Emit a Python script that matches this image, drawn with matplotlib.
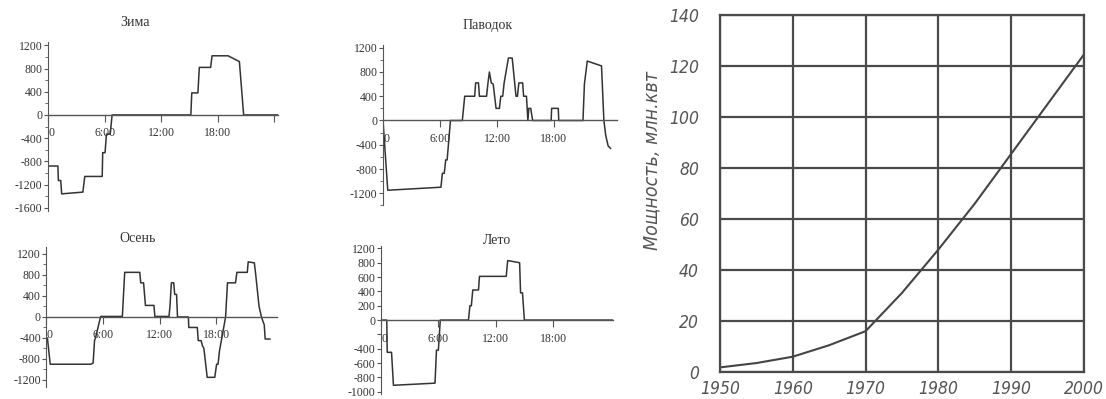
import matplotlib
matplotlib.use("Agg")
import matplotlib.pyplot as plt
from matplotlib import font_manager
from matplotlib.ticker import MultipleLocator

# --- daily load curves (hour, power) ---
zima_h = [0, 1.05, 1.1, 1.35, 1.45, 3.7, 3.9, 5.75, 5.8, 6.05, 6.2, 6.6, 6.8,
          15.15, 15.25, 15.9, 16.05, 17.25, 17.4, 19.1, 20.3, 20.75, 24.4]
zima_p = [-880, -880, -1130, -1130, -1360, -1330, -1060, -1060, -650, -650, -330, -330, 0,
          0, 380, 380, 820, 820, 1020, 1020, 920, 0, 0]

pavodok_h = [0, 0.5, 6.1, 6.25, 6.45, 6.6, 6.75, 7.1, 8.35, 8.6, 9.65, 9.75, 10.05, 10.15,
             10.9, 11.05, 11.2, 11.4, 11.6, 11.9, 12.25, 12.4, 12.6, 12.75, 13.2, 13.6,
             14.0, 14.15, 14.3, 14.7, 14.8, 15.1, 15.25, 15.35, 15.55, 15.75, 17.7, 17.75,
             18.45, 18.5, 21.05, 21.2, 21.5, 23.0, 23.25, 23.45, 23.7, 23.95]
pavodok_p = [0, -1150, -1100, -870, -870, -650, -650, 0, 0, 400, 400, 620, 620, 400,
             400, 620, 800, 620, 600, 200, 200, 400, 400, 620, 1030, 1030,
             400, 400, 620, 620, 400, 400, 0, 200, 200, 0, 0, 200,
             200, 0, 0, 600, 980, 900, 0, -250, -420, -460]

osen_h = [0, 0.1, 0.4, 4.7, 4.95, 5.1, 5.2, 5.75, 8.05, 8.3, 9.9, 10.0, 10.3, 10.5, 11.4,
          11.5, 13.0, 13.1, 13.25, 13.5, 13.6, 13.8, 13.9, 15.05, 15.1, 16.0, 16.1, 16.4,
          16.55, 16.7, 17.05, 17.85, 18.05, 18.2, 18.35, 19.0, 19.2, 20.05, 20.2, 21.3,
          21.4, 22.05, 22.2, 22.55, 22.8, 23.1, 23.2, 23.7]
osen_p = [-400, -400, -900, -900, -880, -450, -400, 10, 10, 850, 850, 650, 650, 220, 220,
          10, 10, 200, 650, 650, 430, 430, 0, 0, -200, -200, -450, -450,
          -550, -600, -1150, -1150, -900, -900, -650, 0, 650, 650, 850, 850,
          1050, 1030, 800, 200, 0, -150, -420, -420]

leto_h = [0, 0.6, 0.65, 1.1, 1.3, 5.65, 5.8, 6.0, 6.2, 9.15, 9.3, 9.45, 9.6, 10.2, 10.3,
          13.1, 13.25, 13.7, 14.5, 14.6, 14.8, 15.0, 24.3]
leto_p = [0, 0, -450, -450, -910, -880, -420, -420, 0, 0, 200, 200, 420, 420, 610,
          610, 830, 820, 800, 380, 380, 0, 0]

# --- capacity growth ---
years = [1950, 1955, 1960, 1965, 1970, 1975, 1980, 1985, 1990, 1995, 2000]
power = [1.8, 3.5, 6, 10.5, 16, 31, 48, 66, 85.5, 105, 124.5]

hour_ticks = [0, 6, 12, 18]
hour_labels = ["0", "6:00", "12:00", "18:00"]

ink = "#333333"
serif = ["Liberation Serif", "DejaVu Serif"]

# narrow italic face for the right chart if there is one
tech_stretch = "normal"
tech_size = 11
try:
    path = font_manager.findfont(font_manager.FontProperties(
        family="DejaVu Sans", style="italic", stretch="condensed"))
    if "Condensed" in path:
        tech_stretch = "condensed"
        tech_size = 12.5
except Exception:
    pass

fig = plt.figure(figsize=(11.06, 3.99), dpi=100)


def small_chart(rect, h, p, xmax, ylim, yticks, ylabels=None, end_tick=False):
    ax = fig.add_axes(rect)
    ax.plot(h, p, color=ink, lw=1.1)
    ax.set_xlim(0, xmax)
    ax.set_ylim(*ylim)
    for s in ["top", "right"]:
        ax.spines[s].set_visible(False)
    ax.spines["bottom"].set_position(("data", 0))
    ax.spines["left"].set_color("#555555")
    ax.spines["bottom"].set_color("#555555")
    ax.spines["left"].set_linewidth(0.8)
    ax.spines["bottom"].set_linewidth(1.0)
    xt = hour_ticks + ([24] if end_tick else [])
    xl = hour_labels + ([""] if end_tick else [])
    ax.set_xticks(xt)
    ax.set_xticklabels(xl, fontsize=8.5, family=serif, color=ink)
    ax.get_xticklabels()[0].set_ha("left")
    ax.tick_params(axis="x", length=5, width=0.8, pad=4, color="#555555")
    ax.set_yticks(yticks)
    ax.set_yticklabels(ylabels if ylabels else [str(v) for v in yticks],
                       fontsize=8.5, family=serif, color=ink)
    ax.yaxis.set_minor_locator(MultipleLocator(200))
    ax.tick_params(axis="y", which="major", length=3, width=0.8, pad=1, color="#555555")
    ax.tick_params(axis="y", which="minor", length=2, width=0.6, color="#555555")
    return ax


small_chart([0.0434, 0.472, 0.208, 0.4216], zima_h, zima_p, 24.4, (-1650, 1250),
            list(range(-1600, 1201, 400)), end_tick=True)
small_chart([0.3463, 0.4852, 0.2113, 0.4028], pavodok_h, pavodok_p, 24.6, (-1400, 1250),
            list(range(-1200, 1201, 400)))
small_chart([0.042, 0.0306, 0.208, 0.350], osen_h, osen_p, 24.4, (-1330, 1330),
            list(range(-1200, 1201, 400)))
leto_ticks = [-1000, -800, -600, -400, -200, 0, 200, 400, 600, 800, 1000]
leto_labels = ["-1000", "-800", "-600", "-400", "", "0", "200", "400", "600", "800", "1200"]
small_chart([0.3445, 0.0128, 0.21, 0.370], leto_h, leto_p, 24.3, (-1030, 1030),
            leto_ticks, leto_labels)

titles = [("Зима", 135, 22), ("Паводок", 488, 25), ("Осень", 138, 238), ("Лето", 497, 241)]
for t, x, y in titles:
    fig.text(x / 1106, 1 - y / 399, t, ha="center", va="center", fontsize=10,
             family=serif, color=ink)

# --- right chart ---
ax = fig.add_axes([0.651, 0.0677, 0.329, 0.8947])
ax.plot(years, power, color="#444444", lw=1.5)
ax.set_xlim(1950, 2000)
ax.set_ylim(0, 140)
ax.set_xticks(range(1950, 2001, 10))
ax.set_yticks(range(0, 141, 20))
ax.grid(True, color="#4a4a4a", lw=1.6)
for s in ax.spines.values():
    s.set_color("#4a4a4a")
    s.set_linewidth(1.6)
ax.tick_params(length=0, labelcolor="#555555")
ax.tick_params(axis="x", pad=6)
ax.tick_params(axis="y", pad=15)
for lbl in ax.get_xticklabels() + ax.get_yticklabels():
    lbl.set_fontstyle("italic")
    lbl.set_family("DejaVu Sans")
    lbl.set_fontstretch(tech_stretch)
    lbl.set_fontsize(tech_size)
ax.set_ylabel("Мощность, млн.квт", fontsize=tech_size + 1.5, fontstyle="italic",
              fontstretch=tech_stretch, family="DejaVu Sans", color="#555555")
ax.yaxis.set_label_coords(-0.16, 0.593)

fig.savefig("out.png", dpi=100)
